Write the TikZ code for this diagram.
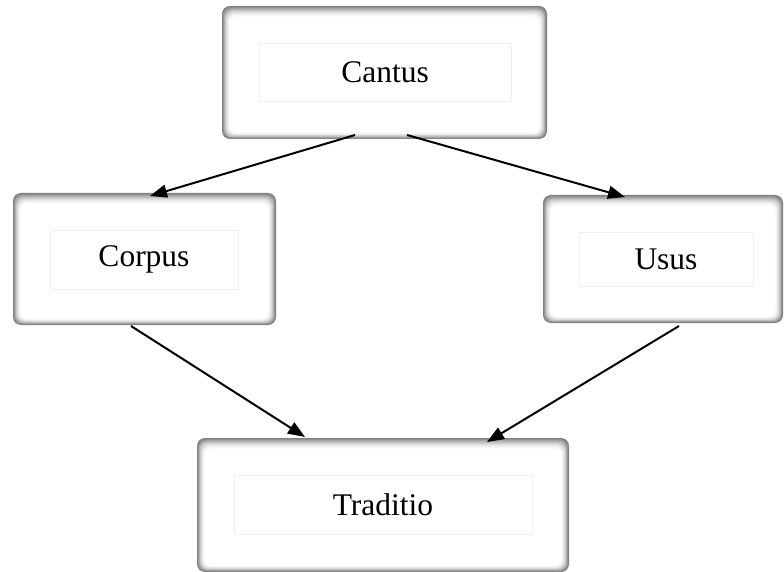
\documentclass[tikz,border=0pt]{standalone}
\usepackage{fontspec}
\setmainfont{Liberation Serif}
\usetikzlibrary{arrows.meta}
\newcommand\glowbox[4]{%
  \foreach \i/\c in {0/50,1/44,2/36,3/28,4/21,5/15,6/10,7/6,8/3,9/1.5}{
    \fill[black!\c,rounded corners=8] ({#1+0.8*\i},{#2+1.1*\i}) rectangle ({#3-0.8*\i},{#4-0.65*\i});
  }
  \fill[white,rounded corners=4] ({#1+8},{#2+11}) rectangle ({#3-8},{#4-6.5});
}
\tikzset{
  inbox/.style={draw=black!6, line width=0.8pt, inner sep=0pt, font=\fontsize{31.5}{38}\selectfont, text=black},
  conn/.style={line width=2pt, -{Triangle[length=17pt,width=13pt]}}
}
\begin{document}
\begin{tikzpicture}[x=1pt,y=-1pt]
\fill[white] (0,0) rectangle (784,572);
\useasboundingbox (0,0) rectangle (784,572);
\glowbox{222}{6}{547}{139}
\glowbox{13}{193}{276}{325}
\glowbox{543}{195}{783}{323}
\glowbox{197}{438}{569}{572}
\node[inbox, minimum width=252, minimum height=58] (cantus) at (385,72) {Cantus};
\node[inbox, minimum width=188, minimum height=59] (corpus) at (144,259.5) {Corpus};
\node[inbox, minimum width=174, minimum height=54] (usus) at (666,259) {Usus};
\node[inbox, minimum width=298, minimum height=59] (traditio) at (383,504.5) {Traditio};
\coordinate (c1) at (355,135);
\coordinate (c2) at (407,135);
\coordinate (c3) at (131,326);
\coordinate (c4) at (679,326);
\coordinate (t1) at (150,196);
\coordinate (t2) at (625,197);
\coordinate (t3) at (305,437);
\coordinate (t4) at (487,442);
\draw[conn] (c1) -- (t1);
\draw[conn] (c2) -- (t2);
\draw[conn] (c3) -- (t3);
\draw[conn] (c4) -- (t4);
\end{tikzpicture}
\end{document}
